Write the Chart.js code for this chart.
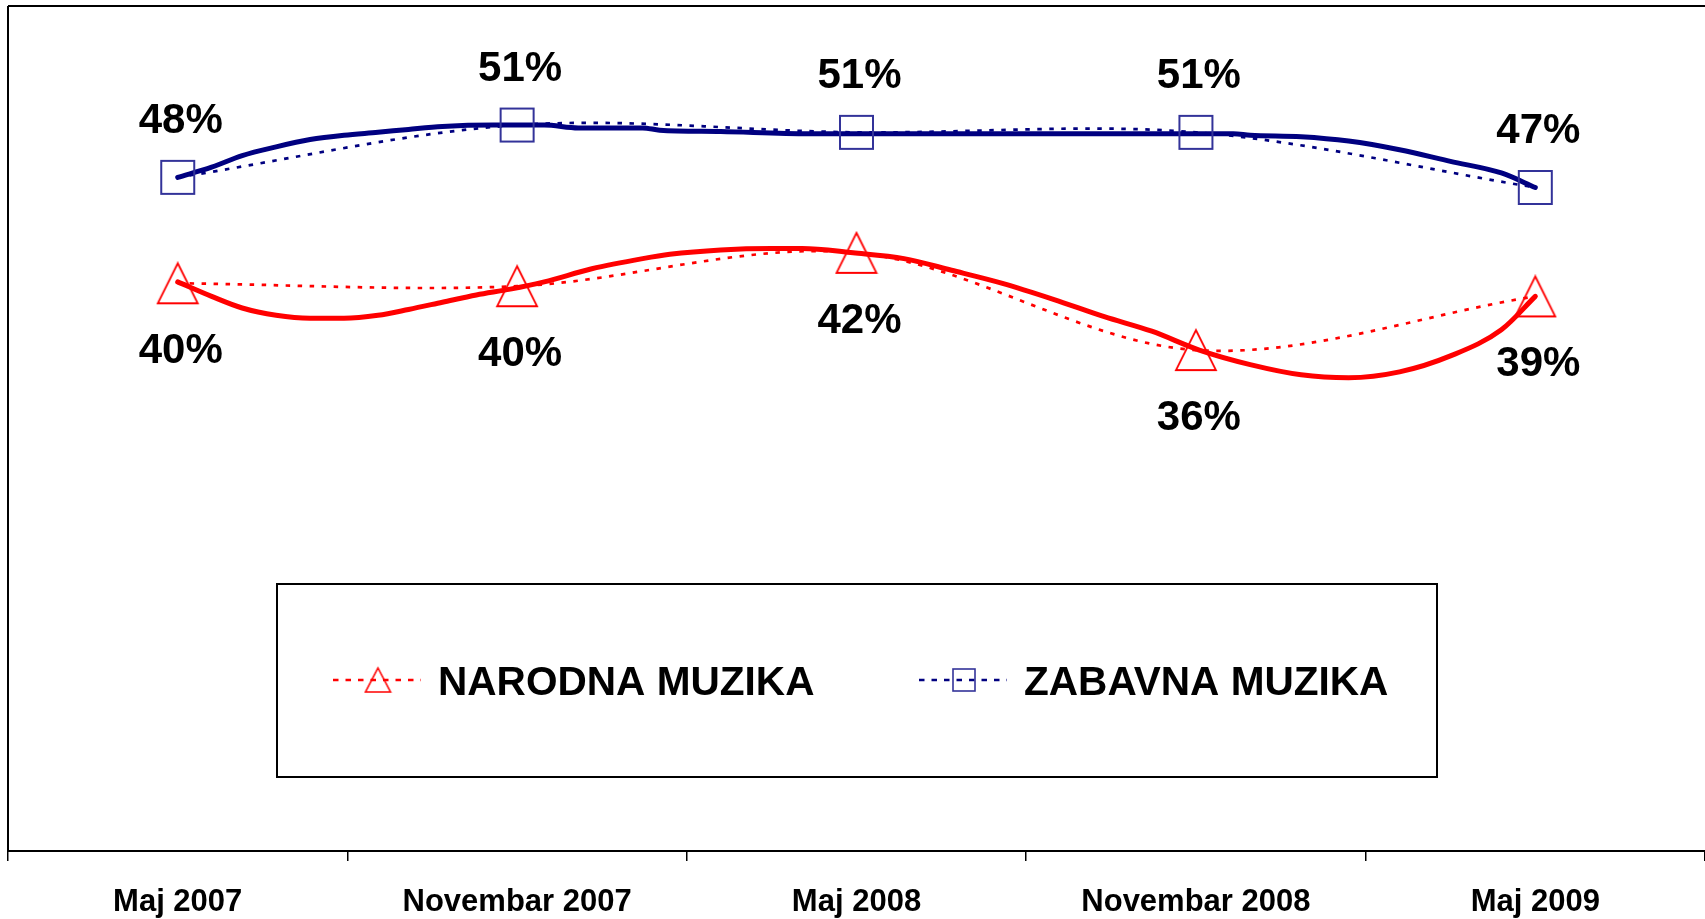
<!DOCTYPE html>
<html>
<head>
<meta charset="utf-8">
<title>Narodna i zabavna muzika</title>
<script src="https://cdn.jsdelivr.net/npm/chart.js@4.4.1/dist/chart.umd.min.js"></script>
<style>
  html, body { margin: 0; padding: 0; background: #fff; }
  canvas { display: block; }
</style>
</head>
<body>
<canvas id="chart" width="1705" height="919"></canvas>
<script>
// survey waves
var periods = ['Maj 2007', 'Novembar 2007', 'Maj 2008', 'Novembar 2008', 'Maj 2009'];
var seriesNames = ['NARODNA MUZIKA', 'ZABAVNA MUZIKA'];

// share in % (labels show the rounded value)
var narodna = [40.3, 40.1, 42.4, 35.7, 39.4];
var zabavna = [47.6, 51.2, 50.7, 50.7, 46.9];

// thick trend curves; x is in period units (0 = Maj 2007)
var narodnaTrendX = [0, 0.1, 0.19, 0.29, 0.39, 0.49, 0.59, 0.68, 0.78, 0.88, 0.98, 1.08, 1.22, 1.37, 1.45, 1.6, 1.75, 1.84, 1.99, 2.14, 2.28, 2.43, 2.58, 2.73, 2.87, 3.01, 3.16, 3.31, 3.45, 3.6, 3.75, 3.9, 4];
var narodnaTrend  = [40.4, 39.4, 38.6, 38.1, 37.9, 37.9, 38.1, 38.5, 39.0, 39.5, 39.9, 40.4, 41.3, 42.0, 42.3, 42.6, 42.7, 42.7, 42.4, 42.0, 41.2, 40.3, 39.2, 38.0, 37.0, 35.7, 34.7, 34.0, 33.8, 34.2, 35.3, 37.1, 39.4];
var zabavnaTrendX = [0, 0.1, 0.19, 0.29, 0.39, 0.49, 0.59, 0.68, 0.78, 0.93, 1.08, 1.18, 1.37, 1.42, 1.6, 1.86, 2.5, 3.11, 3.16, 3.31, 3.45, 3.6, 3.75, 3.9, 4];
var zabavnaTrend  = [47.6, 48.3, 49.1, 49.7, 50.2, 50.5, 50.7, 50.9, 51.1, 51.2, 51.2, 51.0, 51.0, 50.85, 50.75, 50.6, 50.6, 50.6, 50.5, 50.4, 50.1, 49.5, 48.7, 47.9, 46.9];

var RED = '#ff0000';
var NAVY = '#000080';
var MARKER_BLUE = '#333399';
var FONT = '"Liberation Sans", Arial, sans-serif';

// hollow markers, centred on their bounding box like the Excel ones
function makeTriangle(w, h, color, lw) {
  var c = document.createElement('canvas');
  c.width = w + 4;
  c.height = h + 4;
  var ctx = c.getContext('2d');
  ctx.strokeStyle = color;
  ctx.lineWidth = lw;
  ctx.beginPath();
  ctx.moveTo(c.width / 2, 2);
  ctx.lineTo(w + 2, h + 2);
  ctx.lineTo(2, h + 2);
  ctx.closePath();
  ctx.stroke();
  return c;
}

function makeSquare(size, color, lw) {
  var c = document.createElement('canvas');
  c.width = size + 4;
  c.height = size + 4;
  var ctx = c.getContext('2d');
  ctx.strokeStyle = color;
  ctx.lineWidth = lw;
  ctx.strokeRect(2, 2, size, size);
  return c;
}

var triMarker = makeTriangle(40, 40, RED, 1.8);
var sqMarker = makeSquare(33, MARKER_BLUE, 2);
var triLegend = makeTriangle(25, 24, RED, 1.6);
var sqLegend = makeSquare(22, MARKER_BLUE, 1.6);

function toPoints(xs, ys) {
  return xs.map(function (x, i) { return { x: x, y: ys[i] }; });
}

// top and left frame lines of the plot area
var framePlugin = {
  id: 'frameLines',
  beforeDatasetsDraw: function (chart) {
    var a = chart.chartArea;
    var ctx = chart.ctx;
    ctx.save();
    ctx.strokeStyle = '#000';
    ctx.lineWidth = 2;
    ctx.beginPath();
    ctx.moveTo(a.left, a.top);
    ctx.lineTo(a.right, a.top);
    ctx.moveTo(a.left, a.top);
    ctx.lineTo(a.left, a.bottom);
    ctx.stroke();
    ctx.restore();
  }
};

// percentage labels: red ones below the point, blue ones above
var labelPlugin = {
  id: 'pointLabels',
  afterDatasetsDraw: function (chart) {
    var ctx = chart.ctx;
    var offsets = [80, -44];
    ctx.save();
    ctx.font = 'bold 42px ' + FONT;
    ctx.fillStyle = '#000';
    ctx.textAlign = 'center';
    ctx.textBaseline = 'alphabetic';
    [0, 1].forEach(function (di) {
      var meta = chart.getDatasetMeta(di);
      var values = chart.data.datasets[di].data;
      meta.data.forEach(function (pt, i) {
        ctx.fillText(Math.round(values[i]) + '%', pt.x + 3, pt.y + offsets[di]);
      });
    });
    ctx.restore();
  }
};

// boxed legend inside the plot area
var legendPlugin = {
  id: 'boxLegend',
  afterDraw: function (chart) {
    var ctx = chart.ctx;
    var box = { left: 277, top: 584, width: 1160, height: 193 };
    var cy = box.top + 96;
    var items = [
      { x: 333, color: RED, marker: triLegend },
      { x: 919, color: NAVY, marker: sqLegend }
    ];
    ctx.save();
    ctx.strokeStyle = '#000';
    ctx.lineWidth = 2;
    ctx.strokeRect(box.left, box.top, box.width, box.height);

    items.forEach(function (it, i) {
      ctx.strokeStyle = it.color;
      ctx.lineWidth = 2.7;
      ctx.setLineDash([5.5, 7]);
      ctx.beginPath();
      ctx.moveTo(it.x, cy);
      ctx.lineTo(it.x + 88, cy);
      ctx.stroke();
      ctx.setLineDash([]);
      ctx.drawImage(it.marker, it.x + 45 - it.marker.width / 2, cy - it.marker.height / 2);

      ctx.fillStyle = '#000';
      ctx.font = 'bold 40.6px ' + FONT;
      ctx.textAlign = 'left';
      ctx.textBaseline = 'alphabetic';
      ctx.fillText(seriesNames[i], it.x + 105, cy + 15);
    });
    ctx.restore();
  }
};

new Chart(document.getElementById('chart'), {
  type: 'line',
  data: {
    labels: periods,
    datasets: [
      {
        label: seriesNames[0],
        data: narodna,
        xAxisID: 'x',
        borderColor: RED,
        borderWidth: 2.7,
        borderDash: [4.5, 7.5],
        tension: 0.33,
        fill: false,
        pointStyle: triMarker,
        pointRadius: 20
      },
      {
        label: seriesNames[1],
        data: zabavna,
        xAxisID: 'x',
        borderColor: NAVY,
        borderWidth: 2.7,
        borderDash: [4.5, 7.5],
        tension: 0.33,
        fill: false,
        pointStyle: sqMarker,
        pointRadius: 18
      },
      {
        label: 'trend narodna',
        data: toPoints(narodnaTrendX, narodnaTrend),
        xAxisID: 'xt',
        borderColor: RED,
        borderWidth: 5,
        borderCapStyle: 'round',
        cubicInterpolationMode: 'monotone',
        pointRadius: 0,
        fill: false
      },
      {
        label: 'trend zabavna',
        data: toPoints(zabavnaTrendX, zabavnaTrend),
        xAxisID: 'xt',
        borderColor: NAVY,
        borderWidth: 5,
        borderCapStyle: 'round',
        cubicInterpolationMode: 'monotone',
        pointRadius: 0,
        fill: false
      }
    ]
  },
  options: {
    responsive: false,
    animation: false,
    events: [],
    layout: { autoPadding: false, padding: { left: 8, top: 6, right: 0, bottom: 0 } },
    scales: {
      x: {
        type: 'category',
        offset: true,
        grid: {
          display: true,
          offset: true,
          drawOnChartArea: false,
          drawTicks: true,
          tickLength: 10,
          color: '#000',
          lineWidth: 1.5
        },
        border: { display: true, color: '#000', width: 2 },
        ticks: {
          color: '#000',
          font: { family: FONT, size: 31, weight: 'bold' },
          padding: 23,
          maxRotation: 0,
          autoSkip: false
        },
        afterFit: function (scale) { scale.height = 68; }
      },
      xt: { type: 'linear', display: false, min: -0.5, max: 4.5 },
      y: { display: false, min: 1.2, max: 59.4 }
    },
    plugins: {
      legend: { display: false },
      tooltip: { enabled: false }
    }
  },
  plugins: [framePlugin, labelPlugin, legendPlugin]
});
</script>
</body>
</html>
